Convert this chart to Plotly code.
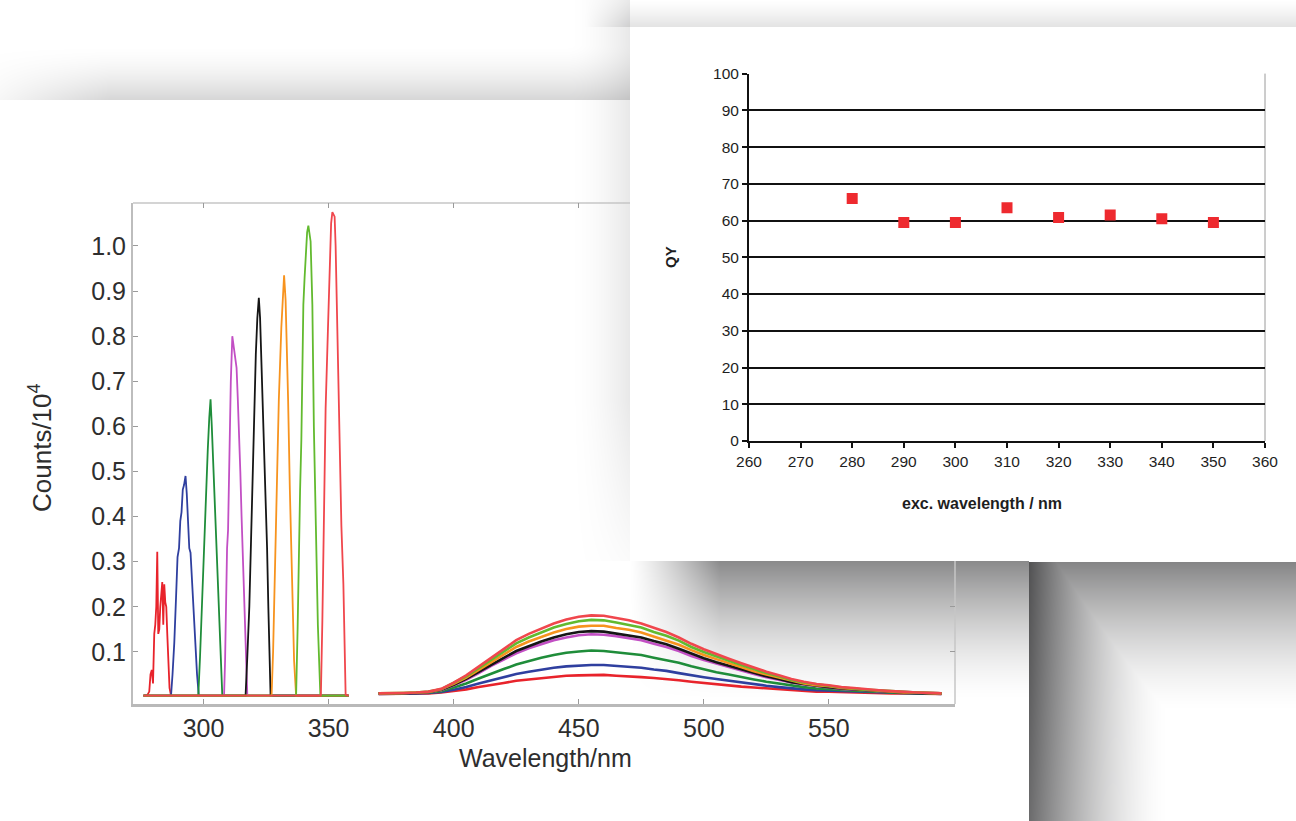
import base64
import struct
import zlib

import numpy as np
import plotly.graph_objects as go

W, H = 1296, 821

# ---------------------------------------------------------------- data
EXC_NM = [280, 290, 300, 310, 320, 330, 340, 350]
COLORS = ["#e8232b", "#2f3f9f", "#1f8d3a", "#c24fc4", "#151515", "#f7931e", "#62ba2f", "#f0474d"]

# Rayleigh scatter peaks (Counts / 10^4)
P280_NM = [276, 277.5, 278.3, 278.8, 279.3, 279.8, 280.3, 280.7, 281.1, 281.5, 281.9, 282.3, 282.7, 283.1, 283.5, 283.9, 284.3, 284.7, 285.1, 285.5, 285.9, 286.4, 287.0, 358]
P280_Y = [0.003, 0.004, 0.012, 0.05, 0.06, 0.03, 0.14, 0.16, 0.20, 0.322, 0.14, 0.15, 0.20, 0.23, 0.255, 0.16, 0.25, 0.21, 0.20, 0.14, 0.07, 0.02, 0.003, 0.003]
P290_NM = [276, 287.0, 287.6, 288.3, 289.0, 289.6, 290.2, 290.7, 291.2, 291.7, 292.2, 292.8, 293.3, 293.8, 294.3, 294.8, 295.4, 296.0, 296.7, 297.4, 298.1, 358]
P290_Y = [0.003, 0.003, 0.05, 0.12, 0.22, 0.31, 0.33, 0.39, 0.41, 0.46, 0.47, 0.49, 0.45, 0.37, 0.33, 0.32, 0.25, 0.20, 0.12, 0.05, 0.003, 0.003]
P300_NM = [276, 297.9, 298.6, 299.3, 300.0, 300.5, 301.1, 301.7, 302.3, 302.8, 303.3, 303.8, 304.3, 304.9, 305.4, 306.0, 306.7, 307.5, 358]
P300_Y = [0.003, 0.003, 0.09, 0.20, 0.30, 0.38, 0.45, 0.55, 0.62, 0.66, 0.60, 0.53, 0.46, 0.39, 0.33, 0.25, 0.12, 0.003, 0.003]
P310_NM = [276, 308.2, 308.6, 309.0, 309.4, 309.8, 310.4, 310.9, 311.5, 312.0, 312.6, 313.2, 313.7, 314.1, 314.7, 315.2, 315.7, 316.1, 316.8, 317.5, 358]
P310_Y = [0.003, 0.003, 0.08, 0.22, 0.33, 0.37, 0.57, 0.70, 0.80, 0.78, 0.75, 0.73, 0.66, 0.61, 0.50, 0.40, 0.32, 0.24, 0.10, 0.003, 0.003]
P320_NM = [276, 316.8, 317.5, 318.3, 319.0, 319.6, 320.3, 320.9, 321.5, 322.1, 322.6, 323.2, 323.9, 324.4, 324.9, 325.4, 325.9, 326.8, 358]
P320_Y = [0.003, 0.003, 0.09, 0.20, 0.35, 0.50, 0.66, 0.76, 0.84, 0.885, 0.84, 0.74, 0.63, 0.53, 0.44, 0.33, 0.20, 0.003, 0.003]
P330_NM = [276, 327.2, 327.8, 328.4, 329.2, 330.1, 331.1, 331.7, 332.2, 332.8, 333.3, 333.8, 334.5, 335.0, 335.5, 336.2, 337.0, 358]
P330_Y = [0.003, 0.003, 0.10, 0.24, 0.46, 0.66, 0.82, 0.90, 0.935, 0.88, 0.78, 0.66, 0.46, 0.35, 0.24, 0.08, 0.003, 0.003]
P340_NM = [276, 337.0, 337.6, 338.1, 338.6, 339.1, 339.9, 340.4, 340.8, 341.4, 341.9, 342.4, 342.8, 343.5, 344.1, 344.9, 345.7, 346.7, 358]
P340_Y = [0.003, 0.003, 0.15, 0.34, 0.46, 0.57, 0.87, 0.93, 0.98, 1.03, 1.045, 1.03, 1.01, 0.87, 0.60, 0.38, 0.16, 0.003, 0.003]
P350_NM = [276, 346.9, 347.5, 348.1, 348.8, 349.7, 350.5, 351.0, 351.5, 352.0, 352.4, 352.8, 353.2, 353.6, 354.1, 354.6, 355.1, 355.9, 356.8, 358]
P350_Y = [0.003, 0.003, 0.17, 0.38, 0.64, 0.81, 0.99, 1.05, 1.075, 1.07, 1.065, 1.00, 0.90, 0.76, 0.60, 0.49, 0.38, 0.25, 0.005, 0.003]

# emission bands, common wavelength grid
EM_NM = [370, 375, 380, 385, 390, 395, 400, 405, 410, 415,
         420, 425, 430, 435, 440, 445, 450, 455, 460, 465,
         470, 475, 480, 485, 490, 495, 500, 505, 510, 515,
         520, 525, 530, 535, 540, 545, 550, 555, 560, 565,
         570, 575, 580, 585, 590, 595]
E280 = [0.007, 0.007, 0.007, 0.008, 0.008, 0.010, 0.013, 0.017, 0.022, 0.026,
        0.031, 0.036, 0.039, 0.042, 0.044, 0.047, 0.048, 0.049, 0.049, 0.047,
        0.046, 0.044, 0.042, 0.040, 0.037, 0.034, 0.031, 0.028, 0.026, 0.023,
        0.021, 0.019, 0.017, 0.015, 0.013, 0.012, 0.012, 0.011, 0.010, 0.009,
        0.009, 0.008, 0.008, 0.008, 0.007, 0.007]
E290 = [0.007, 0.007, 0.008, 0.008, 0.009, 0.011, 0.016, 0.022, 0.030, 0.037,
        0.044, 0.051, 0.056, 0.061, 0.065, 0.068, 0.070, 0.071, 0.071, 0.069,
        0.067, 0.065, 0.061, 0.058, 0.053, 0.048, 0.044, 0.040, 0.036, 0.032,
        0.028, 0.025, 0.022, 0.019, 0.017, 0.015, 0.014, 0.013, 0.012, 0.011,
        0.010, 0.009, 0.008, 0.008, 0.008, 0.007]
E300 = [0.008, 0.008, 0.008, 0.009, 0.010, 0.013, 0.021, 0.030, 0.041, 0.052,
        0.062, 0.072, 0.080, 0.087, 0.093, 0.098, 0.101, 0.103, 0.102, 0.099,
        0.097, 0.093, 0.087, 0.082, 0.076, 0.068, 0.061, 0.055, 0.050, 0.044,
        0.039, 0.034, 0.030, 0.025, 0.022, 0.019, 0.017, 0.015, 0.014, 0.013,
        0.011, 0.010, 0.009, 0.009, 0.008, 0.008]
E310 = [0.008, 0.008, 0.009, 0.009, 0.011, 0.015, 0.026, 0.038, 0.053, 0.069,
        0.083, 0.097, 0.108, 0.117, 0.126, 0.132, 0.137, 0.139, 0.138, 0.135,
        0.131, 0.126, 0.118, 0.111, 0.102, 0.091, 0.082, 0.074, 0.066, 0.059,
        0.051, 0.044, 0.038, 0.032, 0.028, 0.024, 0.021, 0.018, 0.017, 0.015,
        0.013, 0.012, 0.010, 0.009, 0.009, 0.008]
E320 = [0.008, 0.008, 0.009, 0.009, 0.011, 0.016, 0.027, 0.040, 0.056, 0.072,
        0.087, 0.102, 0.113, 0.123, 0.132, 0.139, 0.144, 0.146, 0.145, 0.141,
        0.137, 0.132, 0.124, 0.117, 0.107, 0.096, 0.086, 0.077, 0.069, 0.061,
        0.053, 0.046, 0.040, 0.033, 0.029, 0.025, 0.022, 0.019, 0.017, 0.015,
        0.013, 0.012, 0.010, 0.009, 0.009, 0.008]
E330 = [0.008, 0.008, 0.009, 0.010, 0.011, 0.017, 0.029, 0.043, 0.060, 0.077,
        0.094, 0.111, 0.123, 0.133, 0.143, 0.151, 0.156, 0.158, 0.158, 0.153,
        0.149, 0.143, 0.134, 0.126, 0.116, 0.104, 0.093, 0.084, 0.075, 0.066,
        0.057, 0.050, 0.043, 0.036, 0.030, 0.026, 0.024, 0.020, 0.018, 0.016,
        0.014, 0.012, 0.010, 0.010, 0.009, 0.008]
E340 = [0.008, 0.008, 0.009, 0.010, 0.012, 0.017, 0.031, 0.046, 0.064, 0.083,
        0.101, 0.119, 0.132, 0.143, 0.154, 0.162, 0.168, 0.171, 0.170, 0.165,
        0.160, 0.154, 0.144, 0.136, 0.125, 0.111, 0.100, 0.090, 0.080, 0.071,
        0.062, 0.053, 0.046, 0.038, 0.032, 0.028, 0.025, 0.021, 0.019, 0.016,
        0.015, 0.013, 0.011, 0.010, 0.009, 0.008]
E350 = [0.008, 0.008, 0.009, 0.010, 0.012, 0.018, 0.032, 0.048, 0.068, 0.088,
        0.107, 0.126, 0.140, 0.152, 0.163, 0.172, 0.178, 0.181, 0.180, 0.175,
        0.170, 0.163, 0.153, 0.144, 0.132, 0.118, 0.106, 0.095, 0.085, 0.075,
        0.065, 0.056, 0.048, 0.040, 0.034, 0.029, 0.026, 0.022, 0.020, 0.017,
        0.015, 0.013, 0.011, 0.010, 0.009, 0.008]

SERIES = [
    (P280_NM, P280_Y, E280), (P290_NM, P290_Y, E290), (P300_NM, P300_Y, E300),
    (P310_NM, P310_Y, E310), (P320_NM, P320_Y, E320), (P330_NM, P330_Y, E330),
    (P340_NM, P340_Y, E340), (P350_NM, P350_Y, E350),
]

MAIN_XTICKS = [300, 350, 400, 450, 500, 550]
MAIN_YTICKS = [0.1, 0.2, 0.3, 0.4, 0.5, 0.6, 0.7, 0.8, 0.9, 1.0]
MAIN_YTEXT = ["0.1", "0.2", "0.3", "0.4", "0.5", "0.6", "0.7", "0.8", "0.9", "1.0"]

# quantum yield vs excitation wavelength
QY_NM = [280, 290, 300, 310, 320, 330, 340, 350]
QY = [66.0, 59.5, 59.5, 63.5, 60.8, 61.5, 60.5, 59.5]
QY_XTICKS = [260, 270, 280, 290, 300, 310, 320, 330, 340, 350, 360]
QY_YTICKS = [0, 10, 20, 30, 40, 50, 60, 70, 80, 90, 100]

# ---------------------------------------------------------------- layout geometry (pixels)
MAIN_BOX = (133, 955, 203, 704)      # left, right, top, bottom
INSET_BOX = (749, 1265, 73.6, 441)
PANEL = (630, 1296, 27, 561)


def fx(px):
    return px / W


def fy(py):
    return 1 - py / H


# ---------------------------------------------------------------- shaded backdrop
def backdrop_png():
    X, Y = np.meshgrid(np.arange(W) + 0.5, np.arange(H) + 0.5)
    layers = []
    # grey strip above the spectrum card
    t = np.clip((Y - 45) / 55, 0, 1)
    layers.append(0.16 * t ** 1.6 * np.clip((X + 30) / 140, 0, 1) * (Y < 100) * (X < PANEL[0]))
    # strip above the inset card
    t = np.clip(Y / PANEL[2], 0, 1)
    layers.append(0.11 * t ** 1.2 * np.clip((X - 585) / 45, 0, 1) * (Y < PANEL[2]))
    # soft shade left of the inset card
    t = np.clip((X - 568) / (PANEL[0] - 568), 0, 1)
    layers.append(0.09 * t ** 1.8 * (X < PANEL[0]) * (Y < PANEL[3]) * np.clip((PANEL[3] + 40 - Y) / 200, 0, 1))
    # shadow cast below the inset card
    t = np.clip((Y - PANEL[3]) / 140, 0, 1)
    layers.append(0.46 * (1 - t) ** 1.5 * np.clip((X - PANEL[0]) / 90, 0, 1) ** 1.2
                  * (Y >= PANEL[3]) * (X < 1029))
    # dark corner at the lower right
    inside = (X >= 1029) & (Y >= PANEL[3] + 1)
    dl = (0.68 - 0.1 * np.clip((Y - 562) / 259, 0, 1)) * np.clip(1 - (X - 1029) / 140, 0, 1) ** 1.6
    dt = 0.48 * np.clip(1 - (Y - 562) / 150, 0, 1) ** 1.5
    layers.append(np.maximum(dl, dt) * inside)

    keep = np.ones((H, W))
    for d in layers:
        keep *= 1 - d
    rgb = np.stack([255 * keep, 255 * keep, 253 * keep + 2], axis=-1)
    rgb = np.clip(np.round(rgb), 0, 255).astype(np.int16)

    rows = rgb.reshape(H, -1)
    prev = np.vstack([np.zeros((1, rows.shape[1]), np.int16), rows[:-1]])
    up = ((rows - prev) % 256).astype(np.uint8)
    raw = np.hstack([np.full((H, 1), 2, np.uint8), up]).tobytes()

    def chunk(tag, data):
        return (struct.pack(">I", len(data)) + tag + data
                + struct.pack(">I", zlib.crc32(tag + data) & 0xFFFFFFFF))

    png = (b"\x89PNG\r\n\x1a\n"
           + chunk(b"IHDR", struct.pack(">IIBBBBB", W, H, 8, 2, 0, 0, 0))
           + chunk(b"IDAT", zlib.compress(raw, 9))
           + chunk(b"IEND", b""))
    return "data:image/png;base64," + base64.b64encode(png).decode()


# ---------------------------------------------------------------- figure
fig = go.Figure()

for (pnm, py_, em), color in zip(SERIES, COLORS):
    fig.add_trace(go.Scatter(x=pnm, y=py_, mode="lines", line=dict(color=color, width=1.8),
                             xaxis="x", yaxis="y", hoverinfo="skip"))
for (pnm, py_, em), color in zip(SERIES, COLORS):
    fig.add_trace(go.Scatter(x=EM_NM, y=em, mode="lines", line=dict(color=color, width=2.6),
                             xaxis="x", yaxis="y", hoverinfo="skip"))

# carrier for the mirrored tick marks on the top / right of the spectrum frame
fig.add_trace(go.Scatter(x=[None], y=[None], xaxis="x3", yaxis="y3", hoverinfo="skip"))

fig.add_trace(go.Scatter(x=QY_NM, y=QY, mode="markers",
                         marker=dict(symbol="square", size=11, color="#ee2a2f", line=dict(width=0)),
                         xaxis="x2", yaxis="y2"))

ml, mr, mt, mb = MAIN_BOX
il, ir, it, ib = INSET_BOX
pl, pr, pt, pb = PANEL

xr = (271.8, 600.4)
yr = (-0.0155, 1.0953)

main_font = dict(family="Liberation Sans, Arial, sans-serif", size=25, color="#2e2e2e")
inset_font = dict(family="Liberation Sans, Arial, sans-serif", size=15.5, color="#1e1e1e")

fig.update_layout(
    template="none",
    width=W, height=H,
    autosize=False,
    margin=dict(l=0, r=0, t=0, b=0, pad=0, autoexpand=False),
    paper_bgcolor="white",
    plot_bgcolor="rgba(0,0,0,0)",
    showlegend=False,
    xaxis=dict(domain=[fx(ml), fx(mr)], range=xr, anchor="y", automargin=False,
               tickmode="array", tickvals=MAIN_XTICKS, ticks="inside", ticklen=5, tickwidth=1,
               tickcolor="#9a9a9a", showline=True, linecolor="#b9b9b9", linewidth=3,
               showgrid=False, zeroline=False, tickfont=main_font, ticklabelstandoff=0),
    yaxis=dict(domain=[fy(mb), fy(mt)], range=yr, anchor="x", automargin=False,
               tickmode="array", tickvals=MAIN_YTICKS, ticktext=MAIN_YTEXT,
               ticks="inside", ticklen=5, tickwidth=1, tickcolor="#9a9a9a",
               showline=True, linecolor="#bdbdbd", linewidth=2,
               showgrid=False, zeroline=False, tickfont=main_font),
    xaxis3=dict(overlaying="x", side="top", anchor="y3", range=xr, automargin=False,
                tickmode="array", tickvals=MAIN_XTICKS[:4], ticks="inside", ticklen=5,
                tickcolor="#9a9a9a", showticklabels=False, showline=False,
                showgrid=False, zeroline=False),
    yaxis3=dict(overlaying="y", side="right", anchor="x3", range=yr, automargin=False,
                tickmode="array", tickvals=MAIN_YTICKS[:2], ticks="inside", ticklen=5,
                tickcolor="#9a9a9a", showticklabels=False, showline=False,
                showgrid=False, zeroline=False),
    xaxis2=dict(domain=[fx(il), fx(ir)], range=[260, 360], anchor="y2", automargin=False,
                tickmode="array", tickvals=QY_XTICKS, ticks="outside", ticklen=5, tickwidth=1.5,
                tickcolor="#111", showline=True, linecolor="#111", linewidth=2,
                showgrid=False, zeroline=False, tickfont=inset_font),
    yaxis2=dict(domain=[fy(ib), fy(it)], range=[0, 100], anchor="x2", automargin=False,
                tickmode="array", tickvals=QY_YTICKS, ticks="outside", ticklen=5, tickwidth=1.5,
                tickcolor="#111", showline=True, linecolor="#111", linewidth=2,
                showgrid=True, gridcolor="#111", gridwidth=1.6, zeroline=False,
                tickfont=inset_font),
    images=[dict(source=backdrop_png(), xref="paper", yref="paper", x=0, y=1,
                 sizex=1, sizey=1, xanchor="left", yanchor="top",
                 sizing="stretch", layer="below")],
    shapes=[
        # upper and right edges of the spectrum frame
        dict(type="line", xref="paper", yref="paper", x0=fx(ml), x1=fx(mr), y0=fy(mt), y1=fy(mt),
             line=dict(color="#c6c6c6", width=1.5), layer="below"),
        dict(type="line", xref="paper", yref="paper", x0=fx(mr), x1=fx(mr), y0=fy(mt), y1=fy(mb),
             line=dict(color="#c6c6c6", width=1.5), layer="below"),
        # white card behind the quantum-yield plot
        dict(type="rect", xref="paper", yref="paper", x0=fx(pl), x1=fx(pr), y0=fy(pb), y1=fy(pt),
             fillcolor="white", line=dict(width=0), layer="below"),
        # thin right border of the quantum-yield plot
        dict(type="line", xref="paper", yref="paper", x0=fx(ir), x1=fx(ir), y0=fy(ib), y1=fy(it),
             line=dict(color="#9a9a9a", width=1), layer="below"),
    ],
    annotations=[
        dict(text="Wavelength/nm", xref="paper", yref="paper", x=fx(545), y=fy(758),
             xanchor="center", yanchor="middle", showarrow=False,
             font=dict(family=main_font["family"], size=25, color="#2e2e2e")),
        dict(text="Counts/10<sup>4</sup>", xref="paper", yref="paper", x=fx(40), y=fy(448),
             xanchor="center", yanchor="middle", showarrow=False, textangle=-90,
             font=dict(family=main_font["family"], size=26, color="#2e2e2e")),
        dict(text="<b>QY</b>", xref="paper", yref="paper", x=fx(670), y=fy(257),
             xanchor="center", yanchor="middle", showarrow=False, textangle=-90,
             font=dict(family="Liberation Sans, Arial, sans-serif", size=15, color="#1e1e1e")),
        dict(text="<b>exc. wavelength / nm</b>", xref="paper", yref="paper", x=fx(982), y=fy(504),
             xanchor="center", yanchor="middle", showarrow=False,
             font=dict(family="Liberation Sans, Arial, sans-serif", size=16, color="#1e1e1e")),
    ],
)

# the page itself carries no margin or scrollbars, so the figure fills the window exactly
fig.write_html(
    "out.html",
    post_script="document.body.style.margin='0';document.body.style.overflow='hidden';",
)
